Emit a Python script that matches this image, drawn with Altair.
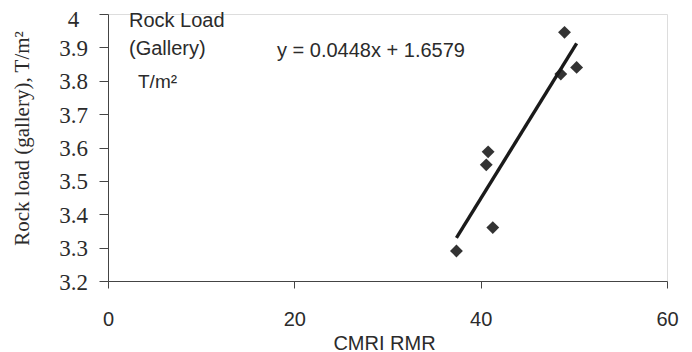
import altair as alt
import pandas as pd

# Data
cmri_rmr = [49.0, 50.3, 48.6, 40.8, 40.6, 41.3, 37.4]
rock_load = [3.945, 3.84, 3.82, 3.587, 3.548, 3.36, 3.29]

x_ticks = [0, 20, 40, 60]
y_ticks = [3.2, 3.3, 3.4, 3.5, 3.6, 3.7, 3.8, 3.9, 4.0]

df = pd.DataFrame({"rmr": cmri_rmr, "load": rock_load})

SANS = "Liberation Sans"
SERIF = "Liberation Serif"
INK = "#2b2b2b"

x_enc = alt.X(
    "rmr:Q",
    scale=alt.Scale(domain=[0, 60], nice=False, zero=False),
    axis=alt.Axis(
        values=x_ticks,
        title="CMRI RMR",
        titleFont=SANS,
        titleFontSize=20,
        titleFontWeight="normal",
        titleColor=INK,
        titleX=276,
        titleY=68,
        titleBaseline="alphabetic",
        titleAlign="center",
        labelFont=SANS,
        labelFontSize=20,
        labelColor=INK,
        labelPadding=21,
        labelOverlap=False,
        tickSize=7,
        tickColor="#444444",
        domainColor="#444444",
        grid=False,
        labelFlush=False,
    ),
)

y_enc = alt.Y(
    "load:Q",
    scale=alt.Scale(domain=[3.2, 4.0], nice=False, zero=False),
    axis=alt.Axis(
        values=y_ticks,
        format=".1~f",
        title="Rock load (gallery), T/m²",
        titleFont=SERIF,
        titleFontSize=21,
        titleFontWeight="normal",
        titleColor=INK,
        titleAngle=270,
        titleX=-86,
        titleY=124,
        titleAlign="center",
        titleBaseline="middle",
        labelFont=SERIF,
        labelFontSize=23,
        labelColor=INK,
        labelAlign="center",
        labelBaseline="middle",
        labelOffset={"condition": {"test": "datum.value >= 4", "value": 5}, "value": 1},
        labelPadding=26,
        labelOverlap=False,
        tickSize=9,
        tickColor="#444444",
        domainColor="#444444",
        grid=False,
        labelFlush=False,
    ),
)

base = alt.Chart(df)

points = base.mark_point(
    shape="diamond", filled=True, size=165, color="#333333", opacity=1
).encode(x=x_enc, y=y_enc)

trend = (
    base.transform_regression("rmr", "load", method="linear")
    .mark_line(color="#1a1a1a", strokeWidth=3.4)
    .encode(x=x_enc, y=y_enc)
)

ann = pd.DataFrame({"t": [0]})


def label(text, x, y, size):
    return (
        alt.Chart(ann)
        .mark_text(
            text=text,
            font=SANS,
            fontSize=size,
            color=INK,
            align="left",
            baseline="alphabetic",
        )
        .encode(x=alt.value(x), y=alt.value(y))
    )


texts = (
    label("Rock Load", 21, 13, 20)
    + label("(Gallery)", 21, 41, 20)
    + label("T/m²", 30, 74, 19)
    + label("y = 0.0448x + 1.6579", 169, 43, 20)
)

chart = (
    alt.layer(points, trend, texts)
    .properties(
        width=559,
        height=267,
        autosize=alt.AutoSizeParams(type="none"),
        padding={"left": 100, "top": 6, "right": 17, "bottom": 71},
    )
    .configure_view(stroke=None)
    .configure(background="white")
)

chart.save("out.html", embed_options={"renderer": "svg", "actions": False})
